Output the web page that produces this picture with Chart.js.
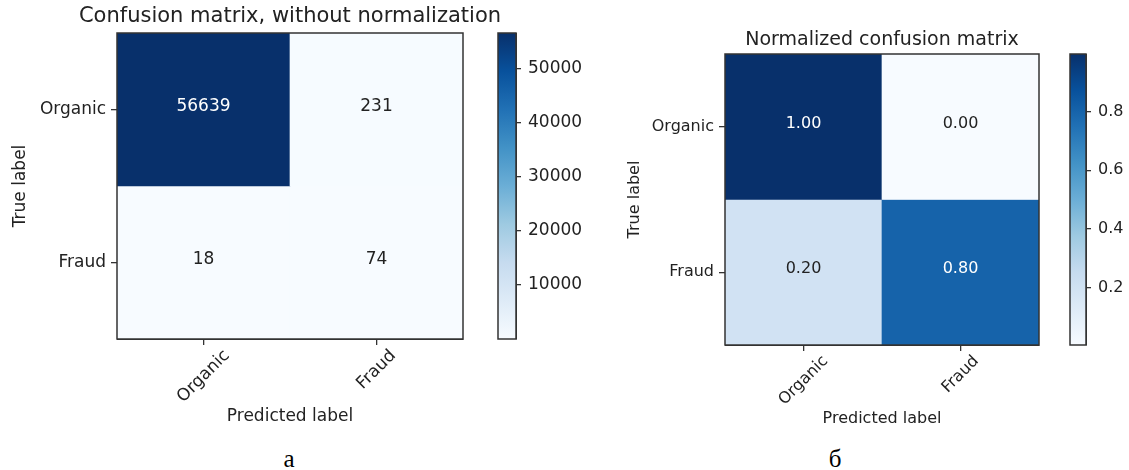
<!DOCTYPE html>
<html>
<head>
<meta charset="utf-8">
<script src="https://cdn.jsdelivr.net/npm/chart.js@4.4.1/dist/chart.umd.min.js"></script>
<style>
  html, body { margin: 0; padding: 0; background: #fff; }
  body { width: 1129px; height: 470px; position: relative; overflow: hidden; }
  canvas { position: absolute; top: 0; }
  .cap { position: absolute; font-family: "Liberation Serif", serif; font-size: 25px; color: #000; transform: translate(-50%, -50%); }
</style>
</head>
<body>
<canvas id="matA" width="580" height="440" style="left:0"></canvas>
<canvas id="barA" width="110" height="440" style="left:480px"></canvas>
<canvas id="matB" width="560" height="440" style="left:560px"></canvas>
<canvas id="barB" width="79" height="440" style="left:1050px"></canvas>
<div class="cap" style="left:289px;top:459px">а</div>
<div class="cap" style="left:835px;top:459px">б</div>
<script>
// datos
const classes = ['Organic', 'Fraud'];
const countsOrganic = [56639, 231];
const countsFraud = [18, 74];
const normOrganic = [0.996, 0.004];
const normFraud = [0.196, 0.804];
const countTicks = [10000, 20000, 30000, 40000, 50000];
const normTicks = [0.2, 0.4, 0.6, 0.8];

Chart.defaults.font.family = '"DejaVu Sans", sans-serif';
Chart.defaults.color = '#222';

// mapa de color "Blues"
const bluesStops = ['#f7fbff', '#deebf7', '#c6dbef', '#9ecae1', '#6baed6', '#4292c6', '#2171b5', '#08519c', '#08306b'];
function hexRgb(h) { return [1, 3, 5].map(i => parseInt(h.substr(i, 2), 16)); }
function blues(t) {
    t = Math.max(0, Math.min(1, t));
    const p = t * 8;
    const i = Math.min(7, Math.floor(p));
    const f = p - i;
    const a = hexRgb(bluesStops[i]), b = hexRgb(bluesStops[i + 1]);
    const c = a.map((v, k) => Math.round(v + (b[k] - v) * f));
    return 'rgb(' + c.join(',') + ')';
}

const frame = {
    id: 'frame',
    afterDraw(chart) {
        const a = chart.chartArea, ctx = chart.ctx;
        ctx.save();
        ctx.strokeStyle = '#333';
        ctx.lineWidth = 1.5;
        ctx.strokeRect(a.left, a.top, a.right - a.left, a.bottom - a.top);
        ctx.restore();
    }
};

// extras de la matriz: textos de celdas, titulo, etiquetas rotadas
function matrixExtras(rows, fmt, thresh, o) {
    return {
        id: 'matrixExtras',
        afterDatasetsDraw(chart) {
            const ctx = chart.ctx, a = chart.chartArea;
            ctx.save();
            ctx.textAlign = 'center';
            ctx.textBaseline = 'middle';
            ctx.font = o.fontSize + 'px "DejaVu Sans"';
            rows.forEach((row, r) => {
                const meta = chart.getDatasetMeta(r);
                row.forEach((v, c) => {
                    const p = meta.data[c].getCenterPoint();
                    ctx.fillStyle = v > thresh ? '#fff' : '#222';
                    ctx.fillText(fmt(v), p.x, p.y - 3);
                });
            });
            ctx.fillStyle = '#222';
            ctx.font = o.titleSize + 'px "DejaVu Sans"';
            ctx.fillText(o.title, (a.left + a.right) / 2, o.titleY);
            ctx.font = o.fontSize + 'px "DejaVu Sans"';
            const xs = chart.scales.x;
            classes.forEach((c, i) => {
                const px = xs.getPixelForTick(i);
                const w = ctx.measureText(c).width;
                const half = (w + o.fontSize) * Math.SQRT1_2 / 2;
                ctx.save();
                ctx.translate(px, a.bottom + 8 + half);
                ctx.rotate(-Math.PI / 4);
                ctx.fillText(c, 0, 0);
                ctx.restore();
            });
            ctx.restore();
        }
    };
}

function drawMatrix(id, rows, fmt, o) {
    const flat = rows.flat();
    const vmin = Math.min(...flat), vmax = Math.max(...flat);
    const datasets = rows.map((row, r) => ({
        data: classes.map(() => [r - 0.5, r + 0.5]),
        backgroundColor: row.map(v => blues((v - vmin) / (vmax - vmin))),
        grouped: false,
        barPercentage: 1,
        categoryPercentage: 1,
        borderWidth: 0
    }));
    new Chart(document.getElementById(id), {
        type: 'bar',
        data: { labels: classes, datasets: datasets },
        options: {
            responsive: false,
            animation: false,
            layout: { padding: { left: 0, top: o.top, right: o.right, bottom: 0 } },
            plugins: { legend: { display: false }, tooltip: { enabled: false } },
            scales: {
                x: {
                    afterFit: s => { s.height = o.xHeight; },
                    grid: { offset: false, drawOnChartArea: false, tickLength: 6, color: '#333', lineWidth: 1.3 },
                    border: { display: true, color: '#333' },
                    ticks: { display: false },
                    title: { display: true, text: 'Predicted label', font: { size: o.fontSize }, padding: { top: 0, bottom: o.xTitlePad } }
                },
                y: {
                    min: -0.5, max: 1.5, reverse: true,
                    afterFit: s => { s.width = o.yWidth; },
                    afterBuildTicks: s => { s.ticks = classes.map((c, i) => ({ value: i })); },
                    grid: { drawOnChartArea: false, tickLength: 6, color: '#333', lineWidth: 1.3 },
                    border: { display: true, color: '#333' },
                    ticks: { padding: 5, font: { size: o.fontSize }, callback: v => classes[v] },
                    title: { display: true, text: 'True label', font: { size: o.fontSize }, padding: { top: o.yTitlePad, bottom: 0 } }
                }
            }
        },
        plugins: [frame, matrixExtras(rows, fmt, vmax / 2, o)]
    });
}

function drawColorbar(id, lo, hi, ticks, fmt, o) {
    new Chart(document.getElementById(id), {
        type: 'bar',
        data: {
            labels: [''],
            datasets: [{
                data: [[lo, hi]],
                backgroundColor: c => {
                    const a = c.chart.chartArea;
                    if (!a) return bluesStops[4];
                    const g = c.chart.ctx.createLinearGradient(0, a.bottom, 0, a.top);
                    bluesStops.forEach((s, k) => g.addColorStop(k / 8, s));
                    return g;
                },
                borderWidth: 0,
                barPercentage: 1,
                categoryPercentage: 1
            }]
        },
        options: {
            responsive: false,
            animation: false,
            layout: { padding: { left: o.left, top: o.top, right: 0, bottom: o.bottom } },
            plugins: { legend: { display: false }, tooltip: { enabled: false } },
            scales: {
                x: { display: false },
                y: {
                    position: 'right', min: lo, max: hi,
                    afterFit: s => { s.width = o.width; },
                    afterBuildTicks: s => { s.ticks = ticks.map(v => ({ value: v })); },
                    grid: { drawOnChartArea: false, tickLength: 5, color: '#333', lineWidth: 1.3 },
                    border: { display: true, color: '#333' },
                    ticks: { padding: 7, font: { size: o.fontSize }, callback: v => fmt(v) }
                }
            }
        },
        plugins: [frame]
    });
}

drawMatrix('matA', [countsOrganic, countsFraud], v => String(v), {
    top: 33, right: 117, xHeight: 101, yWidth: 117, fontSize: 17,
    xTitlePad: 13, yTitlePad: 10, title: 'Confusion matrix, without normalization', titleSize: 21, titleY: 17
});
drawColorbar('barA', 18, 56639, countTicks, v => String(v), {
    left: 18, top: 33, bottom: 101, width: 74, fontSize: 17
});

drawMatrix('matB', [normOrganic, normFraud], v => v.toFixed(2), {
    top: 54, right: 81, xHeight: 95, yWidth: 165, fontSize: 16,
    xTitlePad: 12, yTitlePad: 65, title: 'Normalized confusion matrix', titleSize: 19, titleY: 40
});
drawColorbar('barB', 0.004, 0.996, normTicks, v => v.toFixed(1), {
    left: 20, top: 54, bottom: 95, width: 43, fontSize: 16
});
</script>
</body>
</html>
